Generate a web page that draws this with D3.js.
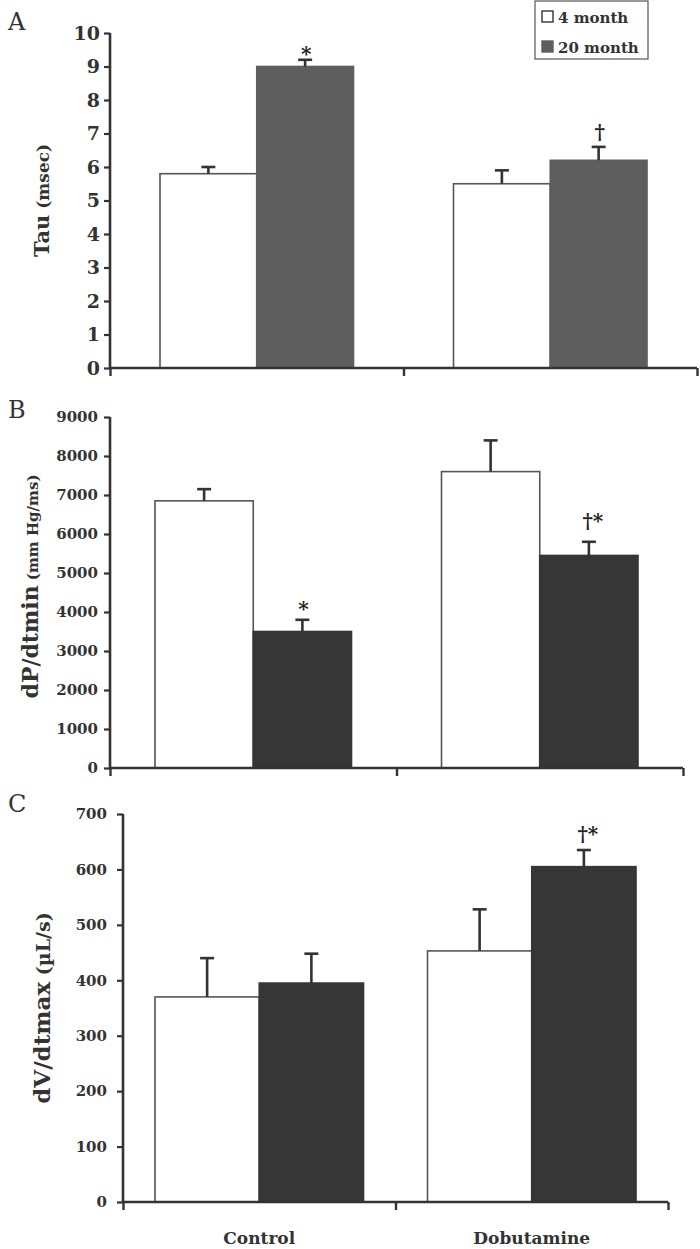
<!DOCTYPE html>
<html><head><meta charset="utf-8">
<script src="https://cdn.jsdelivr.net/npm/d3@7"></script>
<style>body{margin:0;background:#fff}svg{display:block}</style>
</head><body>
<svg id="c" width="700" height="1249"></svg>
<script>
const categories = ["Control", "Dobutamine"];
const seriesNames = ["4 month", "20 month"];

// Panel A: Tau (msec)
const tau4 = [5.8, 5.5];
const tau4Err = [0.2, 0.4];
const tau20 = [9.0, 6.2];
const tau20Err = [0.2, 0.4];
const tauMarks20 = ["*", "†"];
const tauTicks = [0,1,2,3,4,5,6,7,8,9,10];

// Panel B: dP/dtmin (mm Hg/ms)
const dp4 = [6850, 7600];
const dp4Err = [300, 800];
const dp20 = [3500, 5450];
const dp20Err = [300, 350];
const dpMarks20 = ["*", "†*"];
const dpTicks = [0,1000,2000,3000,4000,5000,6000,7000,8000,9000];

// Panel C: dV/dtmax (µL/s)
const dv4 = [370, 453];
const dv4Err = [70, 75];
const dv20 = [395, 605];
const dv20Err = [53, 30];
const dvMarks20 = ["", "†*"];
const dvTicks = [0,100,200,300,400,500,600,700];

const svg = d3.select("#c");
const AX = "#333";
const FONT = "'DejaVu Serif', 'Liberation Serif', serif";

function panel(cfg) {
  const g = svg.append("g");
  const x = d3.scaleBand().domain(categories).range([cfg.x0, cfg.x1]);
  const xs = d3.scaleBand().domain(seriesNames).range([cfg.pad, x.bandwidth() - cfg.pad]);
  const y = d3.scaleLinear().domain([0, cfg.max]).range([cfg.yb, cfg.yt]);
  const data = [];
  categories.forEach((c, i) => {
    data.push({c, s: seriesNames[0], v: cfg.m4[i], e: cfg.e4[i], mark: ""});
    data.push({c, s: seriesNames[1], v: cfg.m20[i], e: cfg.e20[i], mark: cfg.marks20[i]});
  });
  const cx = d => x(d.c) + xs(d.s) + xs.bandwidth()/2;
  // bars
  g.selectAll("rect.bar").data(data).join("rect")
    .attr("x", d => x(d.c) + xs(d.s))
    .attr("width", xs.bandwidth())
    .attr("y", d => y(d.v))
    .attr("height", d => y(0) - y(d.v))
    .attr("fill", d => d.s === seriesNames[0] ? "#fff" : cfg.dark)
    .attr("stroke", d => d.s === seriesNames[0] ? "#555" : cfg.dark)
    .attr("stroke-width", 1.6);
  // error bars
  const eb = g.selectAll("g.eb").data(data).join("g");
  eb.append("line")
    .attr("x1", cx).attr("x2", cx)
    .attr("y1", d => y(d.v)).attr("y2", d => y(d.v + d.e))
    .attr("stroke", AX).attr("stroke-width", 2.6);
  eb.append("line")
    .attr("x1", d => cx(d) - 7).attr("x2", d => cx(d) + 7)
    .attr("y1", d => y(d.v + d.e)).attr("y2", d => y(d.v + d.e))
    .attr("stroke", AX).attr("stroke-width", 2.6);
  // significance markers
  g.selectAll("text.mk").data(data.filter(d => d.mark)).join("text")
    .attr("x", d => cx(d) + (d.mark.length > 1 ? 4 : 1))
    .attr("y", d => y(d.v + d.e) - (d.mark.includes("†") ? cfg.daggerOff : cfg.starOff))
    .attr("text-anchor", "middle")
    .attr("font-family", FONT).attr("font-weight", "bold")
    .attr("font-size", 20).attr("fill", "#222")
    .text(d => d.mark);
  // y axis
  const ya = g.append("g").attr("transform", `translate(${cfg.x0},0)`)
    .call(d3.axisLeft(y).tickValues(cfg.ticks).tickSize(6).tickPadding(cfg.tpad).tickFormat(d3.format("d")));
  ya.select(".domain").attr("stroke", AX).attr("stroke-width", 2.6).attr("d", `M0,${cfg.yt}V${cfg.yb}`);
  ya.selectAll(".tick line").attr("stroke", AX).attr("stroke-width", 2.2);
  ya.selectAll(".tick text").attr("font-family", FONT).attr("font-weight", "bold")
    .attr("font-size", cfg.tfs).attr("fill", "#333");
  // x axis: ticks at category boundaries
  const xb = d3.scaleLinear().domain([0, categories.length]).range([cfg.x0, cfg.x1]);
  const xa = g.append("g").attr("transform", `translate(0,${cfg.yb})`)
    .call(d3.axisBottom(xb).tickValues(d3.range(categories.length + 1)).tickSize(8).tickFormat(""));
  xa.select(".domain").attr("stroke", AX).attr("stroke-width", 2.6).attr("d", `M${cfg.x0},0H${cfg.x1}`);
  xa.selectAll(".tick line").attr("stroke", AX).attr("stroke-width", 2.4);
  // y label
  const lab = g.append("text")
    .attr("transform", `translate(${cfg.lx},${(cfg.yt + cfg.yb)/2 + cfg.lyOff}) rotate(-90)`)
    .attr("text-anchor", "middle")
    .attr("font-family", FONT).attr("font-weight", "bold").attr("fill", "#333");
  lab.append("tspan").attr("font-size", cfg.l1fs).text(cfg.l1);
  lab.append("tspan").attr("font-size", cfg.l2fs).text(" " + cfg.l2);
  // panel letter
  g.append("text").attr("x", 8).attr("y", cfg.letterY)
    .attr("font-family", FONT).attr("font-size", 24).attr("fill", "#333").text(cfg.letter);
  if (cfg.catLabels) {
    g.selectAll("text.cat").data(categories).join("text")
      .attr("x", d => x(d) + x.bandwidth()/2)
      .attr("y", 1244)
      .attr("text-anchor", "middle")
      .attr("font-family", FONT).attr("font-weight", "bold")
      .attr("font-size", 17).attr("fill", "#333")
      .text(d => d);
  }
}

panel({x0:110, x1:697, yt:33, yb:368, max:10, pad:50, m4:tau4, e4:tau4Err, m20:tau20, e20:tau20Err,
  marks20:tauMarks20, ticks:tauTicks, dark:"#5e5e5e", starOff:-1, daggerOff:8, tfs:19, tpad:4,
  lx:49, lyOff:0, l1:"Tau", l2:"(msec)", l1fs:21, l2fs:17, letter:"A", letterY:30});
panel({x0:110, x1:683, yt:417, yb:768, max:9000, pad:45, m4:dp4, e4:dp4Err, m20:dp20, e20:dp20Err,
  marks20:dpMarks20, ticks:dpTicks, dark:"#363636", starOff:4, daggerOff:14, tfs:15, tpad:6,
  lx:38, lyOff:-6, l1:"dP/dtmin", l2:"(mm Hg/ms)", l1fs:22, l2fs:15, letter:"B", letterY:418});
panel({x0:123, x1:668, yt:814, yb:1202, max:700, pad:32, m4:dv4, e4:dv4Err, m20:dv20, e20:dv20Err,
  marks20:dvMarks20, ticks:dvTicks, dark:"#363636", starOff:4, daggerOff:9, tfs:15, tpad:10,
  lx:50, lyOff:0, l1:"dV/dtmax", l2:"(µL/s)", l1fs:23, l2fs:19, letter:"C", letterY:812, catLabels:true});

// legend
const lg = svg.append("g");
lg.append("rect").attr("x", 535).attr("y", 1).attr("width", 113).attr("height", 58)
  .attr("fill", "#fff").attr("stroke", "#555").attr("stroke-width", 1.2);
const legColors = ["#fff", "#5e5e5e"];
seriesNames.forEach((s, i) => {
  lg.append("rect").attr("x", 542).attr("y", 11 + i*30).attr("width", 11).attr("height", 11)
    .attr("fill", legColors[i]).attr("stroke", i === 0 ? "#333" : "#5e5e5e").attr("stroke-width", 1.4);
  lg.append("text").attr("x", 558).attr("y", 23 + i*30)
    .attr("font-family", FONT).attr("font-weight", "bold").attr("font-size", 15).attr("fill", "#333")
    .text(s);
});
</script>
</body></html>
